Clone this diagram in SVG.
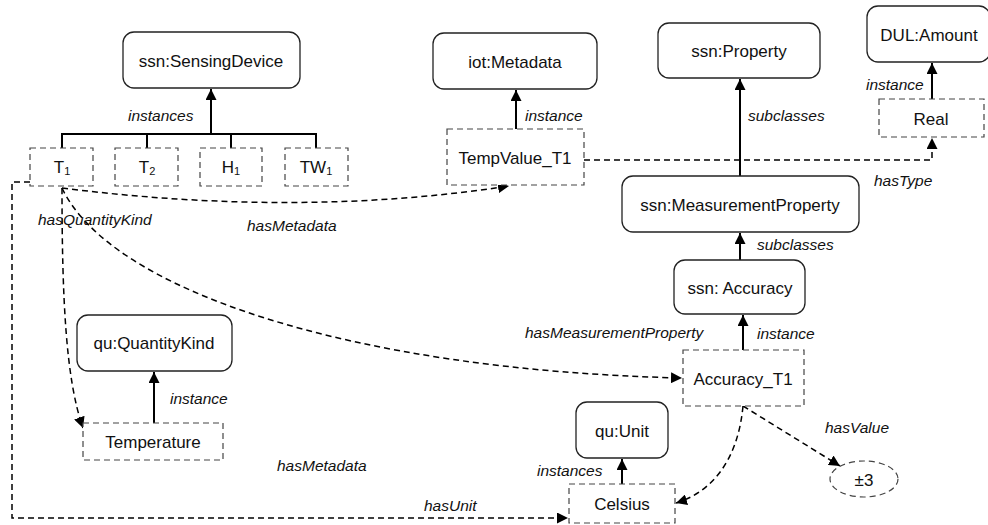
<svg xmlns="http://www.w3.org/2000/svg" width="988" height="525" viewBox="0 0 988 525">
  <style>
    .cls rect { fill: #fff; stroke: #222; stroke-width: 1.3; }
    .ind rect, .ind ellipse { fill: #fff; stroke: #444; stroke-width: 1.2; stroke-dasharray: 6 4; }
    .lbl { font-family: "Liberation Sans", "Open Sans", sans-serif; font-size: 17px; fill: #111; text-anchor: middle; dominant-baseline: central; }
    .sub { font-size: 11px; }
    .edge { font-family: "Liberation Sans", "Open Sans", sans-serif; font-size: 15.5px; font-style: italic; fill: #111; dominant-baseline: central; }
    .solid { fill: none; stroke: #000; stroke-width: 2; }
    .dash { fill: none; stroke: #000; stroke-width: 1.5; stroke-dasharray: 6 4; }
  </style>
  <defs>
    <marker id="head" viewBox="0 0 10 10" refX="10" refY="5" markerWidth="11" markerHeight="11" markerUnits="userSpaceOnUse" orient="auto">
      <path d="M0,0 L10,5 L0,10 z" fill="#000"/>
    </marker>
  </defs>

  <rect width="988" height="525" fill="#fff"/>

  <!-- connectors -->
  <g id="connectors">
    <!-- sensing devices bus -->
    <path class="solid" d="M62,148 V134 H316 V148 M147,134 V148 M231,134 V148"/>
    <path class="solid" d="M211,134 V89" marker-end="url(#head)"/>
    <path class="solid" d="M516,129 V90" marker-end="url(#head)"/>
    <path class="solid" d="M932,99 V63" marker-end="url(#head)"/>
    <path class="solid" d="M740,176 V79" marker-end="url(#head)"/>
    <path class="solid" d="M740,260 V233" marker-end="url(#head)"/>
    <path class="solid" d="M743,350 V315" marker-end="url(#head)"/>
    <path class="solid" d="M154,423 V372" marker-end="url(#head)"/>
    <path class="solid" d="M622,484 V459" marker-end="url(#head)"/>

    <!-- dashed relations -->
    <path class="dash" d="M584,160 H932 V138" marker-end="url(#head)"/>
    <path class="dash" d="M62,188 Q300,218 509,186" marker-end="url(#head)"/>
    <path class="dash" d="M62,188 C62,300 66,380 83,428" marker-end="url(#head)"/>
    <path class="dash" d="M62,188 C110,290 350,370 682,378" marker-end="url(#head)"/>
    <path class="dash" d="M30,182 H12 V518 H568" marker-end="url(#head)"/>
    <path class="dash" d="M743,406 C738,460 712,492 676,503" marker-end="url(#head)"/>
    <path class="dash" d="M743,406 L840,466" marker-end="url(#head)"/>

    <!-- relation labels -->
    <text class="edge" x="128" y="115">instances</text>
    <text class="edge" x="525" y="115">instance</text>
    <text class="edge" x="748" y="115">subclasses</text>
    <text class="edge" x="866" y="84">instance</text>
    <text class="edge" x="874" y="180">hasType</text>
    <text class="edge" x="38" y="219">hasQuantityKind</text>
    <text class="edge" x="247" y="225">hasMetadata</text>
    <text class="edge" x="757" y="244">subclasses</text>
    <text class="edge" x="525" y="332">hasMeasurementProperty</text>
    <text class="edge" x="757" y="333">instance</text>
    <text class="edge" x="170" y="398">instance</text>
    <text class="edge" x="825" y="427">hasValue</text>
    <text class="edge" x="277" y="465">hasMetadata</text>
    <text class="edge" x="537" y="470">instances</text>
    <text class="edge" x="424" y="505">hasUnit</text>
  </g>

  <!-- class nodes -->
  <g id="ssn-sensingdevice" class="cls">
    <rect x="123" y="32" width="177" height="56" rx="11"/>
    <text class="lbl" x="211" y="61">ssn:SensingDevice</text>
  </g>
  <g id="iot-metadata" class="cls">
    <rect x="433" y="33" width="164" height="56" rx="11"/>
    <text class="lbl" x="515" y="62">iot:Metadata</text>
  </g>
  <g id="ssn-property" class="cls">
    <rect x="658" y="23" width="162" height="55" rx="11"/>
    <text class="lbl" x="739" y="51">ssn:Property</text>
  </g>
  <g id="dul-amount" class="cls">
    <rect x="867" y="6" width="123" height="56" rx="11"/>
    <text class="lbl" x="929" y="35">DUL:Amount</text>
  </g>
  <g id="ssn-measurementproperty" class="cls">
    <rect x="622" y="176" width="237" height="56" rx="11"/>
    <text class="lbl" x="740" y="205">ssn:MeasurementProperty</text>
  </g>
  <g id="ssn-accuracy" class="cls">
    <rect x="674" y="260" width="131" height="54" rx="11"/>
    <text class="lbl" x="740" y="288">ssn: Accuracy</text>
  </g>
  <g id="qu-quantitykind" class="cls">
    <rect x="77" y="315" width="155" height="56" rx="11"/>
    <text class="lbl" x="154" y="343">qu:QuantityKind</text>
  </g>
  <g id="qu-unit" class="cls">
    <rect x="576" y="402" width="92" height="56" rx="11"/>
    <text class="lbl" x="622" y="431">qu:Unit</text>
  </g>

  <!-- instance nodes -->
  <g id="t1" class="ind">
    <rect x="30" y="148" width="63" height="38"/>
    <text class="lbl" x="62" y="167">T<tspan class="sub" dy="4">1</tspan></text>
  </g>
  <g id="t2" class="ind">
    <rect x="115" y="148" width="63" height="38"/>
    <text class="lbl" x="147" y="167">T<tspan class="sub" dy="4">2</tspan></text>
  </g>
  <g id="h1" class="ind">
    <rect x="200" y="148" width="62" height="38"/>
    <text class="lbl" x="231" y="167">H<tspan class="sub" dy="4">1</tspan></text>
  </g>
  <g id="tw1" class="ind">
    <rect x="285" y="148" width="63" height="38"/>
    <text class="lbl" x="316" y="167">TW<tspan class="sub" dy="4">1</tspan></text>
  </g>
  <g id="tempvalue-t1" class="ind">
    <rect x="447" y="129" width="137" height="56"/>
    <text class="lbl" x="515" y="158">TempValue_T1</text>
  </g>
  <g id="real" class="ind">
    <rect x="879" y="99" width="105" height="38"/>
    <text class="lbl" x="931" y="119">Real</text>
  </g>
  <g id="accuracy-t1" class="ind">
    <rect x="683" y="350" width="121" height="56"/>
    <text class="lbl" x="743" y="379">Accuracy_T1</text>
  </g>
  <g id="temperature" class="ind">
    <rect x="83" y="423" width="140" height="37"/>
    <text class="lbl" x="153" y="442">Temperature</text>
  </g>
  <g id="celsius" class="ind">
    <rect x="569" y="484" width="106" height="39"/>
    <text class="lbl" x="622" y="504">Celsius</text>
  </g>
  <g id="value-pm3" class="ind">
    <ellipse cx="864" cy="479" rx="34" ry="18"/>
    <text class="lbl" x="864" y="480">±3</text>
  </g>
</svg>
